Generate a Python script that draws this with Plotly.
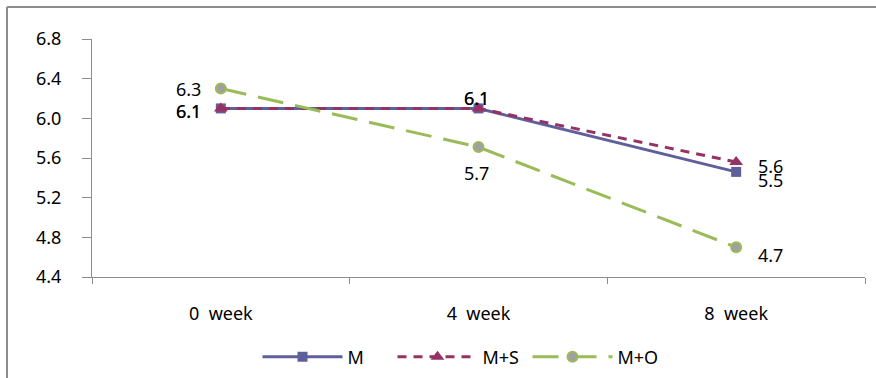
import plotly.graph_objects as go

# Categories and series values
weeks = ["0  week", "4  week", "8  week"]
m_vals = [6.1, 6.1, 5.46]
ms_vals = [6.1, 6.1, 5.56]
mo_vals = [6.3, 5.71, 4.7]

y_ticks = [4.4, 4.8, 5.2, 5.6, 6.0, 6.4, 6.8]

W, H = 876, 378
ML, MR, MT, MB = 92, 11, 39, 101
FONT = dict(family="Noto Sans, DejaVu Sans, sans-serif", size=18, color="#000000")

# label offsets in pixels (dx right, dy down) from each point
series = [
    dict(name="M", y=m_vals, color="#5F5F9C", dash="solid",
         marker=dict(symbol="square", size=10, color="#5F5F9C"),
         label_off=[(-32, 3), (-2, -10), (34, 8)]),
    dict(name="M+S", y=ms_vals, color="#953163", dash="9px,7px",
         marker=dict(symbol="triangle-up", size=12, color="#953163"),
         label_off=[(-32, 3), (-2, -10), (34, 4)]),
    dict(name="M+O", y=mo_vals, color="#9BBB59", dash="26px,12px",
         marker=dict(symbol="circle", size=10, color="#A0A0A0",
                     line=dict(color="#9BBB59", width=2)),
         label_off=[(-32, 0), (-2, 26), (34, 8)]),
]

fig = go.Figure()
annotations = []
for s in series:
    fig.add_trace(go.Scatter(
        x=weeks, y=s["y"], name=s["name"], mode="lines+markers",
        line=dict(color=s["color"], width=3, dash=s["dash"]),
        marker=s["marker"],
    ))
    for xv, yv, (dx, dy) in zip(weeks, s["y"], s["label_off"]):
        annotations.append(dict(
            x=xv, y=yv, xref="x", yref="y", text=f"{yv:.1f}",
            showarrow=False, xshift=dx, yshift=-dy, font=FONT,
        ))

# Outer frame: left and top edges only
pw = W - ML - MR
ph = H - MT - MB
def px_x(px):
    return (px - ML) / pw
def px_y(py):
    return (H - MB - py) / ph

frame = dict(color="#8C8C8C", width=2)
shapes = [
    dict(type="line", xref="paper", yref="paper",
         x0=px_x(7), x1=px_x(7), y0=px_y(7), y1=px_y(H + 2), line=frame),
    dict(type="line", xref="paper", yref="paper",
         x0=px_x(7), x1=px_x(W + 2), y0=px_y(7), y1=px_y(7), line=frame),
]

fig.update_layout(
    width=W, height=H,
    margin=dict(l=ML, r=MR, t=MT, b=MB, autoexpand=False),
    paper_bgcolor="white", plot_bgcolor="white",
    font=FONT,
    showlegend=True,
    legend=dict(orientation="h", xref="container", yref="container",
                x=460 / W, xanchor="center", y=1 - 357 / H, yanchor="middle",
                font=FONT, itemwidth=80, entrywidth=40, tracegroupgap=0),
    annotations=annotations,
    shapes=shapes,
    xaxis=dict(
        type="category", range=[-0.5, 2.5],
        showline=True, linecolor="#8C8C8C", linewidth=1,
        ticks="outside", tickson="boundaries", ticklen=6, tickcolor="#8C8C8C",
        showgrid=False, zeroline=False, ticklabelstandoff=20,
    ),
    yaxis=dict(
        range=[4.4, 6.8], tickvals=y_ticks, tickformat=".1f",
        showline=True, linecolor="#8C8C8C", linewidth=1,
        ticks="outside", ticklen=9, tickcolor="#8C8C8C",
        showgrid=False, zeroline=False, ticklabelstandoff=17,
    ),
)

fig.write_html("out.html")
